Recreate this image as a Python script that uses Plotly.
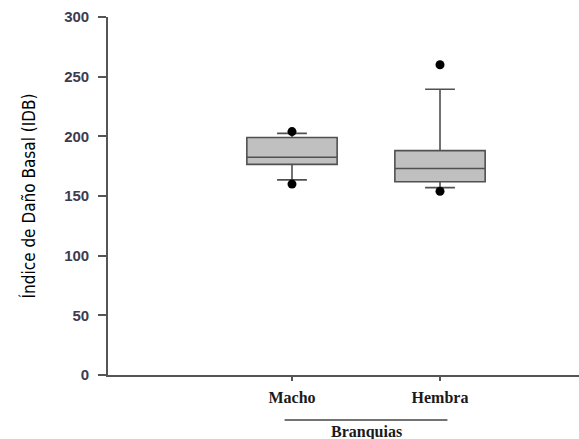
import plotly.graph_objects as go

categories = ["Macho", "Hembra"]
q1 = [176.5, 162]
median = [182.5, 173]
q3 = [199, 188]
lower_fence = [163.5, 157]
upper_fence = [202.5, 239.5]
outlier_x = ["Macho", "Macho", "Hembra", "Hembra"]
outlier_y = [204, 160, 260, 154]
y_ticks = [0, 50, 100, 150, 200, 250, 300]
group_label = "Branquias"

pos = {c: i for i, c in enumerate(categories)}

fig = go.Figure()
fig.add_trace(go.Box(
    x=[pos[c] for c in categories],
    q1=q1, median=median, q3=q3,
    lowerfence=lower_fence, upperfence=upper_fence,
    width=0.61, whiskerwidth=0.33,
    fillcolor="#c0c0c0",
    line=dict(color="#505050", width=1.6),
    boxpoints=False, showlegend=False, hoverinfo="skip",
))
fig.add_trace(go.Scatter(
    x=[pos[c] for c in outlier_x], y=outlier_y, mode="markers",
    marker=dict(color="black", size=9), showlegend=False, hoverinfo="skip",
))

fig.update_layout(
    width=579, height=439,
    margin=dict(l=108, r=0, t=17, b=64),
    plot_bgcolor="white", paper_bgcolor="white",
    xaxis=dict(
        range=[-1.243, 1.939],
        tickvals=list(range(len(categories))), ticktext=categories,
        ticks="outside", ticklen=4, tickwidth=1.5, tickcolor="#555",
        showline=True, linecolor="#555", linewidth=1.6,
        showgrid=False, zeroline=False, ticklabelstandoff=3,
        tickfont=dict(family="Liberation Serif, Times New Roman, serif", size=16, color="#1a1a1a", weight="bold"),
    ),
    yaxis=dict(
        range=[0, 300], tickvals=y_ticks,
        ticks="outside", ticklen=8, tickwidth=1.5, tickcolor="#555",
        showline=True, linecolor="#555", linewidth=1.6,
        showgrid=False, zeroline=False, ticklabelstandoff=6,
        tickfont=dict(family="Liberation Sans, Arial, sans-serif", size=15, color="#3c3c50", weight="bold"),
        title=dict(text="Índice de Daño Basal (IDB)", standoff=24,
                   font=dict(family="Liberation Sans Narrow, DejaVu Sans Condensed, Liberation Sans, Arial", size=17, color="black")),
    ),
)

fig.add_shape(type="line", xref="x", yref="paper", x0=-0.05, x1=1.05, y0=-0.1257, y1=-0.1257,
              line=dict(color="#444", width=1.3))
fig.add_annotation(text=f"<b>{group_label}</b>", xref="x", yref="paper", x=0.5, y=-0.159,
                   yanchor="middle", showarrow=False,
                   font=dict(family="Liberation Serif, Times New Roman, serif", size=16, color="#1a1a1a"))

fig.write_html("out.html")
